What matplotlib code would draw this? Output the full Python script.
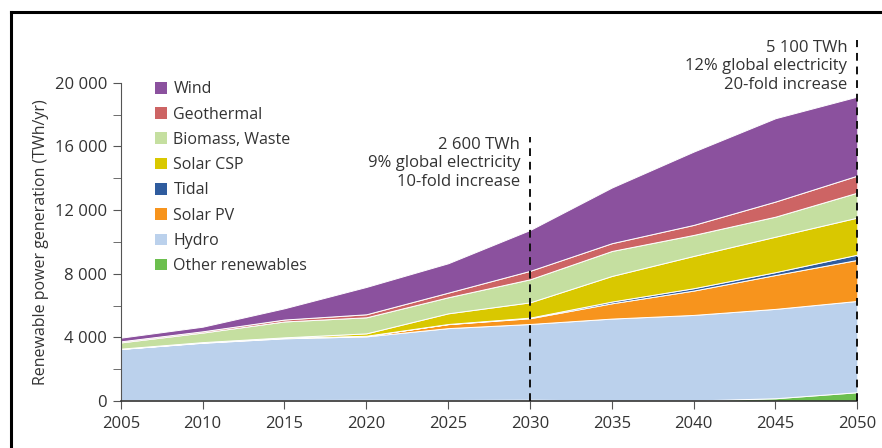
import numpy as np
import matplotlib
matplotlib.use("Agg")
from matplotlib import pyplot as plt
from matplotlib.patches import Patch
from matplotlib.lines import Line2D
from matplotlib.ticker import FuncFormatter, MultipleLocator

plt.rcParams['font.family'] = ['Open Sans', 'DejaVu Sans']

# years and generation per source (TWh/yr)
years = [2005, 2010, 2015, 2020, 2025, 2030, 2035, 2040, 2045, 2050]
other = [50, 50, 60, 70, 60, 80, 30, 30, 170, 550]
hydro = [3220, 3610, 3880, 3990, 4520, 4760, 5150, 5380, 5620, 5740]
solar_pv = [10, 20, 30, 40, 250, 360, 960, 1530, 2130, 2580]
tidal = [0, 0, 0, 0, 10, 40, 110, 150, 180, 330]
solar_csp = [10, 20, 30, 150, 670, 960, 1610, 2030, 2230, 2330]
biomass = [390, 600, 1000, 1010, 1010, 1450, 1570, 1320, 1260, 1570]
geothermal = [70, 80, 120, 190, 290, 530, 490, 630, 950, 1070]
wind = [230, 290, 710, 1720, 1850, 2570, 3500, 4610, 5240, 4970]

# bottom to top
labels = ['Other renewables', 'Hydro', 'Solar PV', 'Tidal', 'Solar CSP',
          'Biomass, Waste', 'Geothermal', 'Wind']
colors = ['#6cbf4e', '#bbd1ec', '#f7941d', '#2f5c9e', '#d9c800',
          '#c5dfa0', '#cd6464', '#8b519e']

# annotations
marks = [2030, 2050]
notes = ['2 600 TWh\n9% global electricity\n10-fold increase',
         '5 100 TWh\n12% global electricity\n20-fold increase']

text_col = '#333333'

fig = plt.figure(figsize=(8.82, 4.48), dpi=100)
ax = fig.add_axes([0.137, 0.105, 0.835, 0.710])

ax.stackplot(years, other, hydro, solar_pv, tidal, solar_csp, biomass,
             geothermal, wind, colors=colors, edgecolor='white', linewidth=0.7)

ax.set_xlim(2005, 2050)
ax.set_ylim(0, 20000)
ax.set_xticks(years)
ax.yaxis.set_major_locator(MultipleLocator(4000))
ax.yaxis.set_minor_locator(MultipleLocator(2000))
ax.yaxis.set_major_formatter(FuncFormatter(lambda v, p: '{:,}'.format(int(v)).replace(',', ' ')))

for s in ['top', 'right']:
    ax.spines[s].set_visible(False)
ax.spines['left'].set_color('#555555')
ax.spines['bottom'].set_color('#333333')
ax.spines['bottom'].set_linewidth(1.2)
ax.tick_params(axis='both', direction='out', length=6, color='#555555',
               labelsize=12, labelcolor=text_col, pad=4)
ax.tick_params(axis='y', which='minor', length=6, color='#555555')
ax.tick_params(axis='x', pad=5)

ax.set_ylabel('Renewable power generation (TWh/yr)', fontsize=11.5,
              color=text_col, labelpad=4)

# dashed markers and notes
tops = [16600, 22700]
for yr, note, top in zip(marks, notes, tops):
    ax.plot([yr, yr], [0, top], color='#111111', linestyle=(0, (4, 3)),
            linewidth=1.4, clip_on=False, zorder=5)
    ax.text(yr - 0.6, top, note, ha='right', va='top', fontsize=12,
            color=text_col, linespacing=1.2)

# legend, top to bottom
handles = [Patch(facecolor=c, edgecolor='none') for c in colors[::-1]]
ax.legend(handles, labels[::-1], loc='upper left', bbox_to_anchor=(0.027, 1.05),
          frameon=False, fontsize=11.5, handlelength=0.75, handleheight=0.75,
          handletextpad=0.4, labelspacing=0.58, labelcolor=text_col)

# frame around the figure (left and top edges visible)
x0 = 11 / 882
y1 = 1 - 12 / 448
fig.add_artist(Line2D([x0, x0], [0, y1], color='black', linewidth=2.2))
fig.add_artist(Line2D([x0, 1], [y1, y1], color='black', linewidth=2.2))

fig.savefig('out.png', dpi=100)
